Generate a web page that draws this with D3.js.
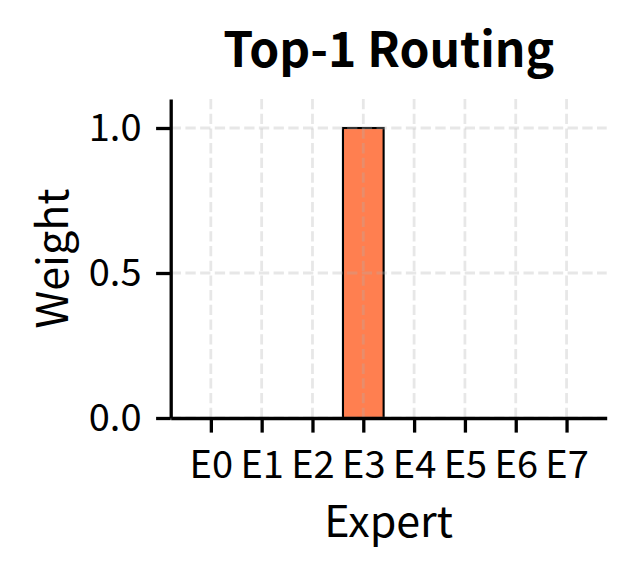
<!DOCTYPE html>
<html>
<head>
<meta charset="utf-8">
<script src="https://cdn.jsdelivr.net/npm/d3@7"></script>
<style>
  html, body { margin: 0; padding: 0; background: #fff; }
  svg { display: block; }
  text { font-family: "Noto Sans CJK JP", "Noto Sans", sans-serif; fill: #000; }
</style>
</head>
<body>
<svg id="chart" width="634" height="574"></svg>
<script>
const categories = ["E0", "E1", "E2", "E3", "E4", "E5", "E6", "E7"];
const weights = [0, 0, 0, 1, 0, 0, 0, 0];
const yTicks = [0.0, 0.5, 1.0];
const yTickLabels = ["0.0", "0.5", "1.0"];
const titleText = "Top-1 Routing";
const xLabel = "Expert";
const yLabel = "Weight";

(function () {
const svg = d3.select("#chart");
const mLeft = 170.7, mRight = 606.7, mTop = 99, mBottom = 418;
const barWidth = 0.8;
const n = categories.length;
const pad = 0.05 * (n - 1 + barWidth);

const x = d3.scaleLinear()
  .domain([-barWidth / 2 - pad, n - 1 + barWidth / 2 + pad])
  .range([mLeft, mRight]);
const y = d3.scaleLinear().domain([0, 1.1]).range([mBottom, mTop]);

const tickLen = 14.6, tickPad = 14.6, tickFont = 38;

// bars
svg.append("g").selectAll("rect")
  .data(weights)
  .join("rect")
  .attr("x", (d, i) => x(i - barWidth / 2))
  .attr("width", (d, i) => x(i + barWidth / 2) - x(i - barWidth / 2))
  .attr("y", d => y(d))
  .attr("height", d => y(0) - y(d))
  .attr("fill", "#FF7F50")
  .attr("stroke", "#000")
  .attr("stroke-width", 2.1);

// grid (drawn on top, semi-transparent)
const grid = svg.append("g")
  .attr("stroke", "#b0b0b0")
  .attr("stroke-opacity", 0.3)
  .attr("stroke-width", 2.8)
  .attr("stroke-dasharray", "10.3,4.4");
grid.selectAll("line.v")
  .data(categories)
  .join("line")
  .attr("class", "v")
  .attr("x1", (d, i) => x(i)).attr("x2", (d, i) => x(i))
  .attr("y1", mTop).attr("y2", mBottom);
grid.selectAll("line.h")
  .data(yTicks)
  .join("line")
  .attr("class", "h")
  .attr("x1", mLeft).attr("x2", mRight)
  .attr("y1", d => y(d)).attr("y2", d => y(d));

// axes
const xAxis = d3.axisBottom(x)
  .tickValues(d3.range(n))
  .tickFormat(i => categories[i])
  .tickSizeInner(tickLen).tickSizeOuter(0).tickPadding(tickPad);
const gx = svg.append("g").attr("transform", `translate(0,${mBottom})`).call(xAxis);

const yAxis = d3.axisLeft(y)
  .tickValues(yTicks)
  .tickFormat((d, i) => yTickLabels[i])
  .tickSizeInner(tickLen).tickSizeOuter(0).tickPadding(tickPad);
const gy = svg.append("g").attr("transform", `translate(${mLeft},0)`).call(yAxis);

[gx, gy].forEach(g => {
  g.select(".domain").attr("stroke", "#000").attr("stroke-width", 3.3);
  g.selectAll(".tick line").attr("stroke", "#000").attr("stroke-width", 3.3);
  g.selectAll(".tick text")
    .attr("font-family", '"Noto Sans CJK JP", "Noto Sans", sans-serif')
    .attr("font-size", tickFont)
    .attr("fill", "#000");
});
gx.selectAll(".tick text").attr("dy", "0.82em");
gy.selectAll(".tick text").attr("dy", "0.33em");

// labels
svg.append("text")
  .attr("x", (mLeft + mRight) / 2).attr("y", 537)
  .attr("text-anchor", "middle")
  .attr("font-size", 43)
  .text(xLabel);

svg.append("text")
  .attr("transform", `translate(68,${(mTop + mBottom) / 2}) rotate(-90)`)
  .attr("text-anchor", "middle")
  .attr("font-size", 43)
  .text(yLabel);

svg.append("text")
  .attr("x", (mLeft + mRight) / 2).attr("y", 67)
  .attr("text-anchor", "middle")
  .attr("font-size", 48)
  .attr("font-weight", "bold")
  .text(titleText);
})();
</script>
</body>
</html>
